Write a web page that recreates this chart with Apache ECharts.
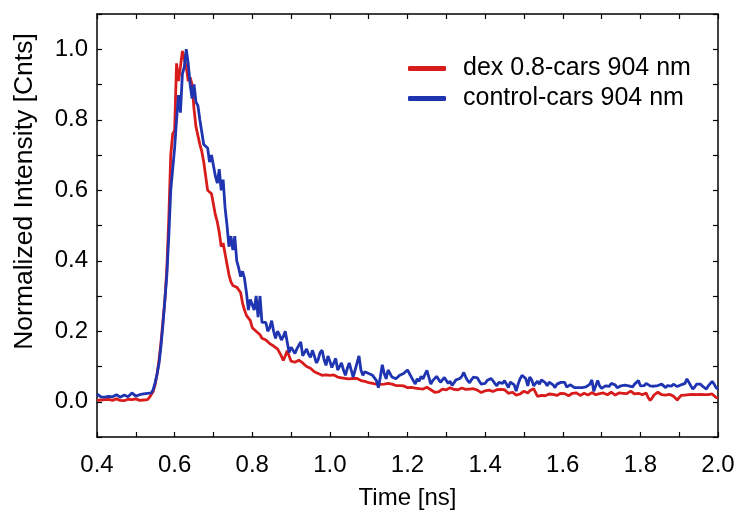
<!DOCTYPE html>
<html>
<head>
<meta charset="utf-8">
<script src="https://cdn.jsdelivr.net/npm/echarts@6/dist/echarts.min.js"></script>
<style>
  html, body { margin: 0; padding: 0; background: #fff; }
  #chart { width: 737px; height: 510px; }
</style>
</head>
<body>
<div id="chart"></div>
<script>
// sample times: 0.400 .. 2.000 ns, step 0.005 ns
var tStart = 0.4, tStep = 0.005;

// dex 0.8-cars 904 nm (one row = 10 samples = 0.05 ns)
var dexCars = [
    0.004, 0.006, 0.005, 0.003, 0.006, 0.004, 0.007, 0.005, 0.004, 0.006,
    0.008, 0.005, 0.004, 0.006, 0.003, 0.005, 0.007, 0.004, 0.006, 0.005,
    0.008, 0.006, 0.004, 0.007, 0.005, 0.009, 0.006, 0.012, 0.015, 0.030,
    0.05, 0.08, 0.12, 0.17, 0.23, 0.29, 0.38, 0.52, 0.70, 0.76,
    0.77, 0.96, 0.91, 0.95, 0.995, 1.0, 0.95, 0.91, 0.92, 0.90,
    0.83, 0.78, 0.78, 0.73, 0.71, 0.68, 0.64, 0.60, 0.60, 0.59,
    0.56, 0.53, 0.51, 0.48, 0.44, 0.45, 0.42, 0.39, 0.36, 0.34,
    0.33, 0.33, 0.325, 0.32, 0.31, 0.28, 0.26, 0.245, 0.245, 0.23,
    0.21, 0.205, 0.20, 0.195, 0.19, 0.18, 0.175, 0.175, 0.17, 0.165,
    0.16, 0.158, 0.155, 0.15, 0.15, 0.13, 0.117, 0.13, 0.145, 0.13,
    0.115, 0.11, 0.112, 0.11, 0.118, 0.12, 0.11, 0.108, 0.10, 0.096,
    0.095, 0.093, 0.085, 0.082, 0.08, 0.078, 0.075, 0.072, 0.076, 0.074,
    0.075, 0.078, 0.076, 0.074, 0.07, 0.072, 0.068, 0.067, 0.066, 0.066,
    0.065, 0.066, 0.066, 0.065, 0.066, 0.064, 0.060, 0.06, 0.058, 0.058,
    0.054, 0.056, 0.052, 0.053, 0.05, 0.052, 0.049, 0.047, 0.05, 0.048,
    0.052, 0.049, 0.05, 0.047, 0.046, 0.046, 0.046, 0.044, 0.045, 0.042,
    0.04, 0.038, 0.041, 0.036, 0.039, 0.035, 0.037, 0.040, 0.036, 0.038,
    0.041, 0.037, 0.034, 0.030, 0.027, 0.025, 0.028, 0.032, 0.036, 0.038,
    0.034, 0.036, 0.040, 0.038, 0.035, 0.037, 0.034, 0.036, 0.039, 0.037,
    0.035, 0.038, 0.036, 0.034, 0.037, 0.035, 0.033, 0.030, 0.026, 0.028,
    0.031, 0.030, 0.033, 0.031, 0.029, 0.032, 0.034, 0.031, 0.035, 0.037,
    0.034, 0.031, 0.024, 0.022, 0.027, 0.025, 0.019, 0.017, 0.022, 0.027,
    0.030, 0.028, 0.025, 0.031, 0.034, 0.037, 0.033, 0.015, 0.012, 0.018,
    0.020, 0.017, 0.019, 0.022, 0.018, 0.021, 0.020, 0.018, 0.022, 0.024,
    0.021, 0.023, 0.020, 0.017, 0.021, 0.024, 0.022, 0.025, 0.020, 0.018,
    0.022, 0.024, 0.021, 0.019, 0.022, 0.026, 0.023, 0.020, 0.018, 0.023,
    0.027, 0.025, 0.022, 0.020, 0.024, 0.027, 0.023, 0.019, 0.021, 0.025,
    0.028, 0.024, 0.020, 0.023, 0.027, 0.030, 0.026, 0.022, 0.019, 0.024,
    0.022, 0.020, 0.023, 0.025, 0.012, 0.004, 0.010, 0.019, 0.024, 0.027,
    0.023, 0.020, 0.023, 0.019, 0.017, 0.021, 0.020, 0.016, 0.012, 0.005,
    0.010, 0.018, 0.021, 0.019, 0.022, 0.020, 0.018, 0.021, 0.023, 0.020,
    0.019, 0.021, 0.018, 0.020, 0.023, 0.020, 0.018, 0.022, 0.019, 0.012,
    0.010
];

// control-cars 904 nm
var controlCars = [
    0.022, 0.018, 0.014, 0.016, 0.013, 0.017, 0.015, 0.018, 0.014, 0.016,
    0.020, 0.017, 0.013, 0.015, 0.019, 0.016, 0.014, 0.018, 0.025, 0.021,
    0.016, 0.015, 0.020, 0.016, 0.022, 0.018, 0.024, 0.021, 0.025, 0.035,
    0.055, 0.08, 0.11, 0.16, 0.22, 0.29, 0.36, 0.47, 0.60, 0.66,
    0.72, 0.80, 0.87, 0.82, 0.93, 0.95, 1.0, 0.96, 0.90, 0.86,
    0.90, 0.85, 0.84, 0.80, 0.80, 0.73, 0.73, 0.72, 0.68, 0.70,
    0.67, 0.64, 0.62, 0.66, 0.60, 0.63, 0.55, 0.50, 0.44, 0.47,
    0.43, 0.47, 0.40, 0.38, 0.355, 0.37, 0.35, 0.31, 0.26, 0.29,
    0.295, 0.26, 0.30, 0.24, 0.30, 0.225, 0.23, 0.225, 0.20, 0.21,
    0.23, 0.20, 0.18, 0.20, 0.19, 0.175, 0.185, 0.20, 0.20, 0.14,
    0.155, 0.16, 0.137, 0.15, 0.16, 0.17, 0.13, 0.14, 0.15, 0.135,
    0.126, 0.146, 0.13, 0.11, 0.12, 0.14, 0.146, 0.12, 0.103, 0.13,
    0.115, 0.097, 0.11, 0.123, 0.09, 0.10, 0.11, 0.09, 0.075, 0.095,
    0.11, 0.09, 0.07, 0.09, 0.11, 0.13, 0.09, 0.075, 0.085, 0.09,
    0.08, 0.085, 0.075, 0.08, 0.06, 0.04, 0.07, 0.105, 0.08, 0.065,
    0.09, 0.08, 0.07, 0.075, 0.065, 0.07, 0.075, 0.07, 0.08, 0.085,
    0.09, 0.089, 0.07, 0.06, 0.05, 0.065, 0.058, 0.072, 0.065, 0.078,
    0.089, 0.07, 0.05, 0.06, 0.058, 0.072, 0.068, 0.055, 0.062, 0.069,
    0.064, 0.052, 0.058, 0.046, 0.05, 0.062, 0.058, 0.066, 0.072, 0.083,
    0.07, 0.06, 0.054, 0.063, 0.07, 0.075, 0.068, 0.058, 0.05, 0.046,
    0.052, 0.06, 0.055, 0.066, 0.06, 0.052, 0.045, 0.055, 0.06, 0.052,
    0.06, 0.05, 0.04, 0.056, 0.06, 0.048, 0.03, 0.05, 0.065, 0.075,
    0.08, 0.065, 0.045, 0.07, 0.062, 0.045, 0.052, 0.058, 0.05, 0.062,
    0.062, 0.054, 0.045, 0.056, 0.052, 0.048, 0.04, 0.05, 0.046, 0.055,
    0.05, 0.055, 0.042, 0.038, 0.048, 0.044, 0.04, 0.045, 0.04, 0.036,
    0.04, 0.037, 0.042, 0.045, 0.05, 0.062, 0.03, 0.045, 0.06, 0.045,
    0.038, 0.036, 0.045, 0.05, 0.044, 0.052, 0.05, 0.048, 0.04, 0.038,
    0.045, 0.04, 0.047, 0.05, 0.045, 0.048, 0.042, 0.05, 0.055, 0.06,
    0.045, 0.04, 0.046, 0.052, 0.05, 0.045, 0.048, 0.044, 0.04, 0.046,
    0.048, 0.05, 0.045, 0.04, 0.046, 0.048, 0.044, 0.05, 0.046, 0.043,
    0.046, 0.048, 0.044, 0.052, 0.065, 0.068, 0.045, 0.036, 0.042, 0.05,
    0.046, 0.05, 0.044, 0.04, 0.036, 0.045, 0.05, 0.058, 0.05, 0.04,
    0.036
];

var seriesNames = ['dex 0.8-cars 904 nm', 'control-cars 904 nm'];
var seriesColors = ['#d81b1b', '#1f34b0'];

function toPairs(arr) {
    var out = [];
    for (var i = 0; i < arr.length; i++) {
        out.push([+(tStart + i * tStep).toFixed(3), arr[i]]);
    }
    return out;
}

// only every other tenth gets a label
function evenLabel(v) {
    var k = Math.round(v * 10);
    return (k % 2 === 0) ? (k / 10).toFixed(1) : '';
}

var FONT = 'Liberation Sans';
var FS = 24;
var axisLine = { show: true, onZero: false, lineStyle: { color: '#000', width: 1.5 } };
var tick = { show: true, inside: true, length: 5, lineStyle: { color: '#000', width: 1.2 } };

var myChart = echarts.init(document.getElementById('chart'), null, { renderer: 'canvas' });

var option = {
    animation: false,
    backgroundColor: '#fff',
    grid: { left: 97, right: 19, top: 14, bottom: 73, containLabel: false, outerBoundsMode: 'none' },
    legend: {
        left: 403,
        top: 51,
        orient: 'vertical',
        itemWidth: 38,
        itemHeight: 5,
        itemGap: 5,
        icon: 'roundRect',
        data: seriesNames,
        textStyle: { fontFamily: FONT, fontSize: 25, color: '#000', padding: [0, 0, 0, 12] }
    },
    xAxis: [{
        type: 'value',
        min: 0.4, max: 2.0, interval: 0.1,
        name: 'Time [ns]',
        nameLocation: 'middle',
        nameGap: 49,
        nameTextStyle: { fontFamily: FONT, fontSize: FS, color: '#000' },
        axisLine: axisLine,
        axisTick: tick,
        splitLine: { show: false },
        axisLabel: { formatter: evenLabel, fontFamily: FONT, fontSize: FS, color: '#000', margin: 16 }
    }, {
        type: 'value', position: 'top',
        min: 0.4, max: 2.0, interval: 0.1,
        axisLine: axisLine, axisTick: tick,
        splitLine: { show: false }, axisLabel: { show: false }
    }],
    yAxis: [{
        type: 'value',
        min: -0.1, max: 1.1, interval: 0.1,
        name: 'Normalized Intensity [Cnts]',
        nameLocation: 'middle',
        nameGap: 59,
        nameTextStyle: { fontFamily: FONT, fontSize: 26.5, color: '#000', padding: [0, 0, 0, 68] },
        axisLine: axisLine,
        axisTick: tick,
        splitLine: { show: false },
        axisLabel: { formatter: evenLabel, fontFamily: FONT, fontSize: FS, color: '#000', margin: 9 }
    }, {
        type: 'value', position: 'right',
        min: -0.1, max: 1.1, interval: 0.1,
        axisLine: axisLine, axisTick: tick,
        splitLine: { show: false }, axisLabel: { show: false }
    }],
    series: [{
        name: seriesNames[0],
        type: 'line',
        showSymbol: false,
        data: toPairs(dexCars),
        itemStyle: { color: seriesColors[0] },
        lineStyle: { color: seriesColors[0], width: 2.8 }
    }, {
        name: seriesNames[1],
        type: 'line',
        showSymbol: false,
        data: toPairs(controlCars),
        itemStyle: { color: seriesColors[1] },
        lineStyle: { color: seriesColors[1], width: 2.8 }
    }]
};

myChart.setOption(option);
</script>
</body>
</html>
